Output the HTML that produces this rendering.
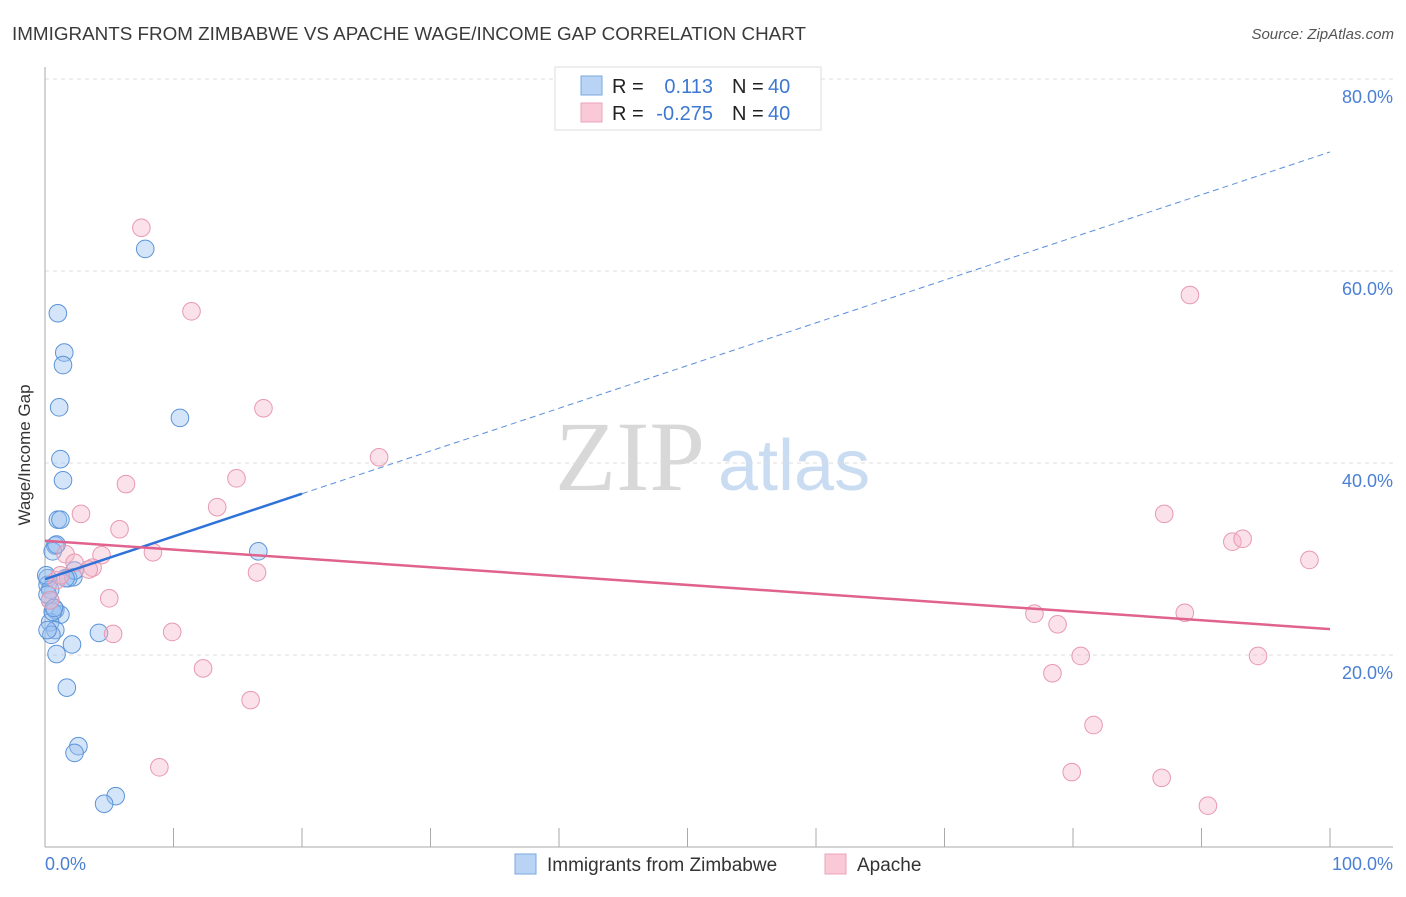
<!DOCTYPE html>
<html><head><meta charset="utf-8"><style>
body{margin:0;background:#fff;font-family:"Liberation Sans",sans-serif;}
svg text{font-family:"Liberation Sans",sans-serif;}
</style></head><body>
<svg id="c" width="1406" height="892" xmlns="http://www.w3.org/2000/svg">
<text x="12" y="40" font-size="18" fill="#3a3a3a" textLength="794" lengthAdjust="spacingAndGlyphs">IMMIGRANTS FROM ZIMBABWE VS APACHE WAGE/INCOME GAP CORRELATION CHART</text>
<text x="1394" y="39" font-size="15" fill="#555" text-anchor="end" font-style="italic">Source: ZipAtlas.com</text>
<text x="555" y="490" font-size="100" fill="#d8d8d8" style="font-family:'Liberation Serif',serif">ZIP</text>
<text x="718" y="490" font-size="72" fill="#c9dcf2">atlas</text>
<g id="grid"></g>
<line x1="45" y1="67" x2="45" y2="847" stroke="#aaa"/>
<line x1="45" y1="847" x2="1393" y2="847" stroke="#aaa"/>
<text x="30" y="455" font-size="17" fill="#333" text-anchor="middle" transform="rotate(-90 30 455)">Wage/Income Gap</text>
<text x="45" y="870" font-size="18" fill="#4a7fd4">0.0%</text>
<text x="1393" y="870" font-size="18" fill="#4a7fd4" text-anchor="end">100.0%</text>
<g id="marks"></g>
<g>
<rect x="555" y="67" width="266" height="63" fill="#fff" stroke="#ddd"/>
<rect x="581" y="76" width="21" height="19" fill="#b9d3f5" stroke="#7aa7e0"/>
<rect x="581" y="103" width="21" height="19" fill="#f9c9d7" stroke="#eba3ba"/>
<text x="612" y="93" font-size="20" fill="#222">R =</text>
<text x="713" y="93" font-size="20" fill="#3d78d0" text-anchor="end">0.113</text>
<text x="732" y="93" font-size="20" fill="#222">N =</text>
<text x="768" y="93" font-size="20" fill="#3d78d0">40</text>
<text x="612" y="120" font-size="20" fill="#222">R =</text>
<text x="713" y="120" font-size="20" fill="#3d78d0" text-anchor="end">-0.275</text>
<text x="732" y="120" font-size="20" fill="#222">N =</text>
<text x="768" y="120" font-size="20" fill="#3d78d0">40</text>
</g>
<g>
<rect x="515" y="854" width="21" height="20" fill="#b9d3f5" stroke="#7aa7e0"/>
<text x="547" y="871" font-size="19" fill="#333">Immigrants from Zimbabwe</text>
<rect x="825" y="854" width="21" height="20" fill="#f9c9d7" stroke="#eba3ba"/>
<text x="857" y="871" font-size="19" fill="#333">Apache</text>
</g>
</svg>
<script>
const yTicks=[20,40,60,80];
const yTickLabels=["20.0%","40.0%","60.0%","80.0%"];
const xTicks=[0,10,20,30,40,50,60,70,80,90,100];
const blueX=[7.8,1.0,1.5,1.4,1.1,10.5,1.2,1.4,1.0,1.2,0.8,0.6,16.6,0.2,2.2,1.8,2.3,0.2,0.4,0.8,1.2,0.4,0.8,0.5,4.2,2.1,0.9,1.7,2.6,2.3,5.5,4.6,0.4,0.2,0.6,0.1,1.6,0.2,0.7,0.9];
const blueY=[62.3,55.6,51.5,50.2,45.8,44.7,40.4,38.2,34.1,34.1,31.4,30.8,30.8,28.0,28.1,28.0,28.8,27.3,26.8,24.7,24.2,23.4,22.6,22.1,22.3,21.1,20.1,16.6,10.5,9.8,5.3,4.5,25.7,26.3,24.5,28.3,28.0,22.6,24.9,31.5];
const pinkX=[7.5,11.4,17.0,89.1,26.0,14.9,6.3,13.4,2.8,5.8,8.4,4.4,1.6,3.7,2.3,3.4,16.5,0.9,1.2,5.0,5.3,9.9,12.3,16.0,8.9,77.0,78.8,80.6,78.4,81.6,79.9,86.9,90.5,87.1,92.4,93.2,98.4,88.7,94.4,0.4];
const pinkY=[64.5,55.8,45.7,57.5,40.6,38.4,37.8,35.4,34.7,33.1,30.7,30.4,30.5,29.1,29.6,28.9,28.6,27.8,28.3,25.9,22.2,22.4,18.6,15.3,8.3,24.3,23.2,19.9,18.1,12.7,7.8,7.2,4.3,34.7,31.8,32.1,29.9,24.4,19.9,25.7];
const blueTrend=[27.9,72.4];
const pinkTrend=[31.9,22.7];
const NS="http://www.w3.org/2000/svg";
const xs=v=>45+v*12.85;
const ys=v=>847-v*9.6;
function mk(tag,attrs,parent){const e=document.createElementNS(NS,tag);for(const k in attrs)e.setAttribute(k,attrs[k]);parent.appendChild(e);return e;}
const grid=document.getElementById('grid');
const marks=document.getElementById('marks');
yTicks.forEach((t,i)=>{
  const l=mk('line',{x1:45,x2:1393,y1:ys(t),y2:ys(t),stroke:'#ddd','stroke-dasharray':'4,4'},grid);
  
  
  const tx=mk('text',{x:1393,y:ys(t)+24,'font-size':18,fill:'#4a7fd4','text-anchor':'end'},grid);
  tx.textContent=yTickLabels[i];
  
  
});
xTicks.forEach(t=>{
  const l=mk('line',{x1:xs(t),x2:xs(t),y1:828,y2:847,stroke:'#aaa'},grid);
  
  
});
blueX.forEach((x,i)=>{
  const c=mk('circle',{cx:xs(x),cy:ys(blueY[i]),r:8.8,fill:'rgba(150,190,240,0.4)',stroke:'#5b94d8','stroke-width':1},marks);
  
  
});
pinkX.forEach((x,i)=>{
  const c=mk('circle',{cx:xs(x),cy:ys(pinkY[i]),r:8.8,fill:'rgba(245,180,200,0.4)',stroke:'#e899b0','stroke-width':1},marks);
  
  
});
const bAt=v=>blueTrend[0]+(blueTrend[1]-blueTrend[0])*v/100;
let t1=mk('line',{x1:xs(0),y1:ys(bAt(0)),x2:xs(20),y2:ys(bAt(20)),stroke:'#2f72d8','stroke-width':2.5},marks);


let t2=mk('line',{x1:xs(20),y1:ys(bAt(20)),x2:xs(100),y2:ys(bAt(100)),stroke:'#5b8fdc','stroke-width':1,'stroke-dasharray':'6,4'},marks);


let t3=mk('line',{x1:xs(0),y1:ys(pinkTrend[0]),x2:xs(100),y2:ys(pinkTrend[1]),stroke:'#e0628e','stroke-width':2.5},marks);


</script>
</body></html>
